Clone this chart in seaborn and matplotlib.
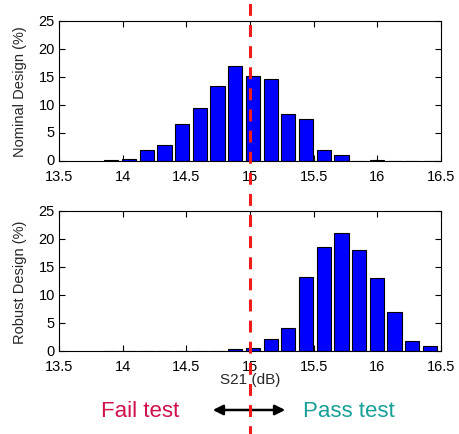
import matplotlib
matplotlib.use('Agg')
import matplotlib.pyplot as plt
import matplotlib.transforms as mtransforms
from matplotlib.lines import Line2D
from matplotlib.patches import FancyArrowPatch
import pandas as pd
import seaborn as sns


# bin centres of the S21 histograms (dB)
bin_centres = [13.911, 14.050, 14.189, 14.328, 14.467, 14.606, 14.745, 14.884,
               15.023, 15.162, 15.301, 15.440, 15.579, 15.718, 15.857, 15.996,
               16.135, 16.274, 16.413]
nominal_pct = [0.2, 0.35, 1.9, 2.8, 6.6, 9.5, 13.4, 16.9,
               15.2, 14.6, 8.4, 7.5, 1.9, 1.1, 0.0, 0.15,
               0.0, 0.0, 0.0]
robust_pct = [0.0, 0.0, 0.0, 0.0, 0.0, 0.0, 0.0, 0.4,
              0.6, 2.1, 4.1, 13.3, 18.5, 21.1, 18.1, 13.1,
              7.0, 1.7, 0.85]

xticks = [13.5, 14, 14.5, 15, 15.5, 16, 16.5]
xtick_labels = ['13.5', '14', '14.5', '15', '15.5', '16', '16.5']
yticks = [0, 5, 10, 15, 20, 25]
spec_limit = 15.0

df = pd.DataFrame({'s21': bin_centres, 'nominal': nominal_pct, 'robust': robust_pct})

sns.set_style('ticks')
plt.rcParams['font.family'] = ['Liberation Sans', 'DejaVu Sans']
plt.rcParams['lines.scale_dashes'] = False

fig = plt.figure(figsize=(4.59, 4.35), dpi=100)
ax_top = fig.add_axes([0.1285, 0.6276, 0.8323, 0.3218])
ax_bot = fig.add_axes([0.1285, 0.1908, 0.8323, 0.3218])

nudge_up = mtransforms.ScaledTranslation(0, 2 / 100, fig.dpi_scale_trans)

for ax, col, ylab in [(ax_top, 'nominal', 'Nominal Design (%)'),
                      (ax_bot, 'robust', 'Robust Design (%)')]:
    sns.barplot(data=df, x='s21', y=col, native_scale=True, width=0.8,
                color='#0000ff', saturation=1, edgecolor='black',
                linewidth=0.8, errorbar=None, ax=ax)
    ax.set_xlim(13.5, 16.5)
    ax.set_ylim(0, 25)
    ax.set_xticks(xticks)
    ax.set_xticklabels(xtick_labels)
    ax.set_yticks(yticks)
    ax.tick_params(direction='in', length=4, width=0.8, top=True, right=True,
                   labelsize=10.5, colors='black')
    ax.tick_params(axis='x', pad=6)
    ax.tick_params(axis='y', pad=3)
    for lbl in ax.get_yticklabels():
        lbl.set_transform(lbl.get_transform() + nudge_up)
    for s in ax.spines.values():
        s.set_visible(True)
        s.set_linewidth(0.8)
        s.set_color('black')
    ax.set_ylabel(ylab, fontsize=10.5, labelpad=8)
    ax.set_xlabel('')

ax_bot.set_xlabel('S21 (dB)', fontsize=11, labelpad=-1)

# pass/fail limit across the whole figure
trans = mtransforms.blended_transform_factory(ax_top.transData, fig.transFigure)
fig.add_artist(Line2D([spec_limit, spec_limit], [1.0, 0.0], transform=trans,
                      color='#f01c1c', linewidth=2.2,
                      linestyle=(12.0, (8.6, 6.6)), zorder=10))

fig.text(0.305, 0.053, 'Fail test', color='#d0104a', fontsize=16,
         ha='center', va='center')
fig.text(0.761, 0.053, 'Pass test', color='#17a098', fontsize=16,
         ha='center', va='center')
fig.add_artist(FancyArrowPatch(
    (210 / 459, 0.0552), (288 / 459, 0.0552), transform=fig.transFigure,
    arrowstyle='<|-|>,head_length=6,head_width=3', color='black',
    linewidth=1.8, mutation_scale=1))

fig.savefig('out.png', dpi=100)
